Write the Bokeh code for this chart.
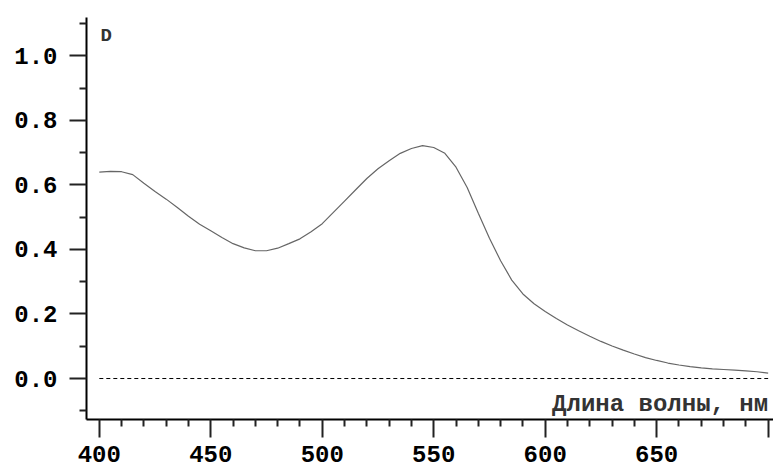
from bokeh.plotting import figure
from bokeh.models import FixedTicker, Label, Range1d
from bokeh.embed import file_html
from bokeh.resources import INLINE

# Data
wavelength = [400, 405, 410, 415, 420, 425, 430, 435, 440, 445, 450, 455, 460, 465,
              470, 475, 480, 485, 490, 495, 500, 505, 510, 515, 520, 525, 530, 535,
              540, 545, 550, 555, 560, 565, 570, 575, 580, 585, 590, 595, 600, 605,
              610, 615, 620, 625, 630, 635, 640, 645, 650, 655, 660, 665, 670, 675,
              680, 685, 690, 695, 700]
absorbance = [0.640, 0.642, 0.641, 0.632, 0.605, 0.580, 0.556, 0.530, 0.503, 0.478,
              0.458, 0.437, 0.418, 0.405, 0.396, 0.396, 0.404, 0.418, 0.433, 0.455,
              0.480, 0.515, 0.550, 0.585, 0.620, 0.650, 0.675, 0.698, 0.713, 0.722,
              0.716, 0.698, 0.655, 0.592, 0.512, 0.435, 0.365, 0.305, 0.262, 0.232,
              0.208, 0.186, 0.166, 0.148, 0.131, 0.115, 0.101, 0.088, 0.076, 0.065,
              0.056, 0.048, 0.042, 0.037, 0.033, 0.030, 0.028, 0.026, 0.024, 0.021,
              0.017]

x_ticks = [400, 450, 500, 550, 600, 650, 700]
x_minor = [410, 420, 430, 440, 460, 470, 480, 490, 510, 520, 530, 540, 560, 570,
           580, 590, 610, 620, 630, 640, 660, 670, 680, 690]
y_ticks = [0.0, 0.2, 0.4, 0.6, 0.8, 1.0]
y_minor = [-0.1, 0.1, 0.3, 0.5, 0.7, 0.9, 1.1]
x_tick_labels = {400: "400", 450: "450", 500: "500", 550: "550", 600: "600", 650: "650", 700: ""}
y_tick_labels = {0.0: "0.0", 0.2: "0.2", 0.4: "0.4", 0.6: "0.6", 0.8: "0.8", 1.0: "1.0"}
x_title = "Длина волны, нм"
y_title = "D"

FONT = "Liberation Mono"

p = figure(width=773, height=473, output_backend="svg", toolbar_location=None,
           x_range=Range1d(394.26, 702.4), y_range=Range1d(-0.127, 1.119),
           min_border_left=86, min_border_right=0, min_border_top=17, min_border_bottom=54)
p.outline_line_color = None
p.xgrid.visible = False
p.ygrid.visible = False
p.background_fill_color = "white"
p.border_fill_color = "white"

# zero baseline (dashed)
p.line([wavelength[0], wavelength[-1]], [0, 0], line_color="black", line_width=1,
       line_dash="4 3")
# spectrum
p.line(wavelength, absorbance, line_color="#666666", line_width=1.2)

for ax in (p.xaxis[0], p.yaxis[0]):
    ax.axis_line_width = 2
    ax.axis_line_color = "black"
    ax.major_tick_line_width = 2
    ax.minor_tick_line_width = 2
    ax.major_tick_line_color = "#222222"
    ax.minor_tick_line_color = "#222222"
    ax.major_tick_in = 0
    ax.minor_tick_in = 0
    ax.major_label_text_font = FONT
    ax.major_label_text_font_style = "bold"
    ax.major_label_text_font_size = "24px"
    ax.major_label_text_color = "black"

p.xaxis.ticker = FixedTicker(ticks=x_ticks, minor_ticks=x_minor)
p.yaxis.ticker = FixedTicker(ticks=y_ticks, minor_ticks=y_minor)
p.xaxis.major_label_overrides = x_tick_labels
p.yaxis.major_label_overrides = y_tick_labels
p.xaxis.major_tick_out = 18
p.xaxis.minor_tick_out = 7
p.xaxis.major_label_standoff = 8
p.yaxis.major_tick_out = 17
p.yaxis.minor_tick_out = 7
p.yaxis.major_label_standoff = 12

p.add_layout(Label(x=700, y=-0.08, text=x_title, text_align="right",
                   text_baseline="alphabetic", text_font=FONT, text_font_style="bold",
                   text_font_size="24px", text_color="#333333"))
p.add_layout(Label(x=400.5, y=1.062, text=y_title, text_align="left",
                   text_baseline="alphabetic", text_font=FONT, text_font_style="bold",
                   text_font_size="19px", text_color="#333333"))

open("out.html", "w").write(file_html(p, INLINE))
